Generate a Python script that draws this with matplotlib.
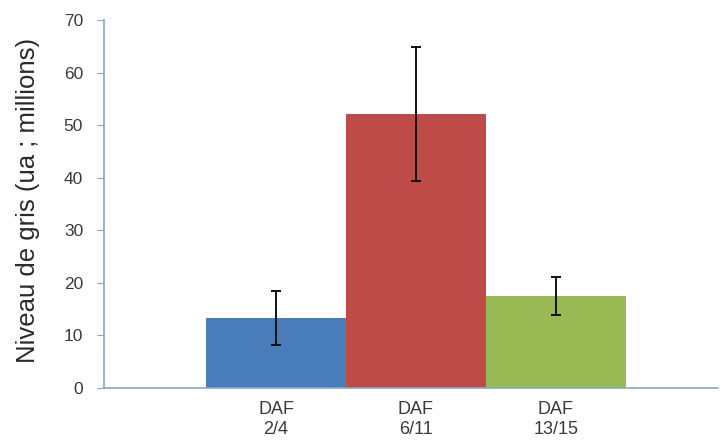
import matplotlib
matplotlib.use("Agg")
import matplotlib.pyplot as plt

categories = ["DAF\n2/4", "DAF\n6/11", "DAF\n13/15"]
values = [13.3, 52.1, 17.5]
errors = [5.2, 12.7, 3.7]
colors = ["#4a7ebb", "#be4b48", "#98b954"]
yticks = [0, 10, 20, 30, 40, 50, 60, 70]

plt.rcParams["font.family"] = ["Liberation Sans", "DejaVu Sans"]

fig = plt.figure(figsize=(7.21, 4.43), dpi=100)
ax = fig.add_axes([104 / 721, 55 / 443, 614 / 721, 368 / 443])

x = list(range(len(categories)))
ax.bar(x, values, width=1.0, color=colors, edgecolor="none", zorder=2)
ax.errorbar(x, values, yerr=errors, fmt="none", ecolor="#111111",
            elinewidth=1.4, capsize=3.5, capthick=1.4, zorder=3)

ax.set_xlim(-1.23, 3.16)
ax.set_ylim(0, 70)
ax.set_yticks(yticks)
ax.set_yticklabels([str(t) for t in yticks], fontsize=12.5, color="#3a3a3a")
ax.set_xticks(x)
ax.set_xticklabels(categories, fontsize=13, color="#3a3a3a", linespacing=1.25)
ax.tick_params(axis="x", length=0, pad=9)
ax.tick_params(axis="y", length=5, direction="out", color="#86a9bb", pad=10)

for side in ("top", "right"):
    ax.spines[side].set_visible(False)
for side in ("left", "bottom"):
    ax.spines[side].set_color("#86a9bb")
    ax.spines[side].set_linewidth(1.2)

ax.set_ylabel("Niveau de gris (ua ; millions)", fontsize=18.5, color="#2a2a2a")
ax.yaxis.set_label_coords(-0.104, 0.51)

fig.savefig("out.png", dpi=100)
